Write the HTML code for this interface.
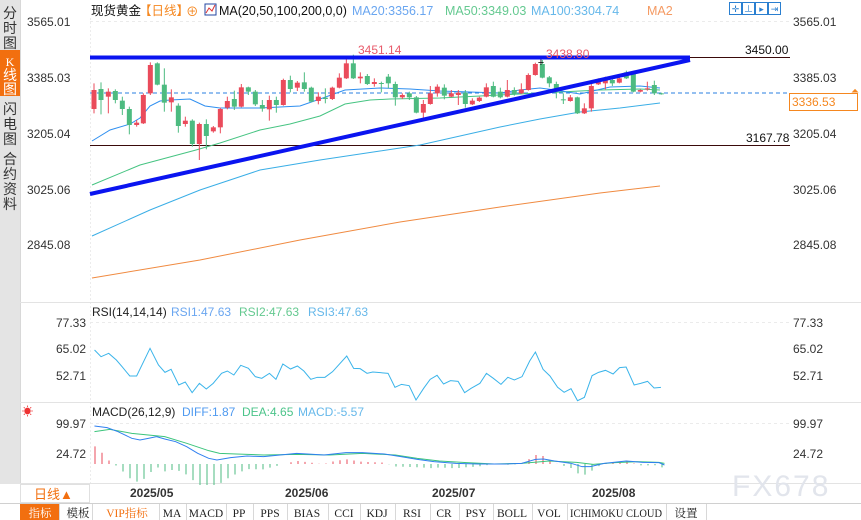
<!DOCTYPE html>
<html><head><meta charset="utf-8">
<style>
body{margin:0;width:861px;height:520px;overflow:hidden;background:#fff;font-family:"Liberation Sans","Noto Sans CJK SC",sans-serif;}
svg{position:absolute;left:0;top:0}
text{font-family:"Liberation Sans","Noto Sans CJK SC",sans-serif}
.serif text, text.serif{font-family:"Liberation Serif","Noto Serif CJK SC",serif}
</style></head>
<body>
<svg id="s" width="861" height="520" xmlns="http://www.w3.org/2000/svg">
<rect x="0" y="0" width="20" height="484" fill="#e4e4e4"/>
<rect x="0" y="50" width="20" height="46" fill="#f26f0f"/>
<g font-size="14" fill="#333" text-anchor="middle">
<text x="10" y="18">分</text><text x="10" y="33">时</text><text x="10" y="48">图</text>
<text x="10" y="66" fill="#fff" font-size="12" class="serif">K</text><text x="10" y="80" fill="#fff">线</text><text x="10" y="94" fill="#fff">图</text>
<text x="10" y="114">闪</text><text x="10" y="129">电</text><text x="10" y="144">图</text>
<text x="10" y="164">合</text><text x="10" y="179">约</text><text x="10" y="194">资</text><text x="10" y="209">料</text>
</g>
<line x1="20.5" y1="0" x2="20.5" y2="503" stroke="#d8d8d8"/>
<line x1="90.5" y1="18" x2="90.5" y2="483" stroke="#ececec" stroke-dasharray="2,2"/>
<line x1="20" y1="302.5" x2="861" y2="302.5" stroke="#e3e3e3"/>
<line x1="20" y1="402.5" x2="861" y2="402.5" stroke="#e3e3e3"/>
<line x1="20" y1="483.5" x2="861" y2="483.5" stroke="#e3e3e3"/>
<line x1="0" y1="503.5" x2="861" y2="503.5" stroke="#d0d0d0"/>
<g stroke="#ebebeb" stroke-dasharray="3,3">
<line x1="90" y1="21.5" x2="790" y2="21.5"/>
<line x1="90" y1="322.5" x2="790" y2="322.5"/>
<line x1="90" y1="423.5" x2="790" y2="423.5"/>
</g>
<g font-size="12.5">
<text x="91" y="15" fill="#111">现货黄金</text>
<text x="139" y="15" fill="#f5871f">【日线】</text>
<text x="186" y="16" fill="#f5871f">⊕</text>
<rect x="205" y="4" width="11" height="11" fill="#fff" stroke="#2346a0"/>
<polyline points="206,13 209,8 212,11 215,5" fill="none" stroke="#d33" stroke-width="1"/>
<text x="219" y="15" fill="#111">MA(20,50,100,200,0,0)</text>
<text x="352" y="15" fill="#6aa6f0">MA20:3356.17</text>
<text x="445" y="15" fill="#64c990">MA50:3349.03</text>
<text x="531" y="15" fill="#66b8ea">MA100:3304.74</text>
<text x="647" y="15" fill="#f59a62">MA2</text>
</g>
<g fill="none" stroke="#2a7fd0">
<rect x="729.5" y="2.5" width="12" height="12"/><rect x="742.5" y="2.5" width="12" height="12"/><rect x="755.5" y="2.5" width="12" height="12"/><rect x="768.5" y="2.5" width="12" height="12"/>
</g>
<g fill="#2a7fd0" font-size="9" text-anchor="middle"><text x="735.5" y="12">✛</text><text x="748.5" y="12">⊥</text><text x="761.5" y="12">▸</text><text x="774.5" y="12">⇥</text></g>
<g font-size="12" fill="#333">
<text x="27" y="26">3565.01</text><text x="27" y="82">3385.03</text><text x="27" y="138">3205.04</text><text x="27" y="194">3025.06</text><text x="27" y="249">2845.08</text>
<text x="793" y="26">3565.01</text><text x="793" y="82">3385.03</text><text x="793" y="138">3205.04</text><text x="793" y="194">3025.06</text><text x="793" y="249">2845.08</text>
<text x="56" y="327">77.33</text><text x="56" y="353">65.02</text><text x="56" y="380">52.71</text>
<text x="793" y="327">77.33</text><text x="793" y="353">65.02</text><text x="793" y="380">52.71</text>
<text x="56" y="428">99.97</text><text x="56" y="458">24.72</text>
<text x="793" y="428">99.97</text><text x="793" y="458">24.72</text>
</g>
<g font-size="12">
<text x="92" y="316" fill="#222">RSI(14,14,14)</text><text x="171" y="316" fill="#6aa6f0">RSI1:47.63</text><text x="239" y="316" fill="#64c990">RSI2:47.63</text><text x="308" y="316" fill="#66b8ea">RSI3:47.63</text>
<text x="92" y="416" fill="#222">MACD(26,12,9)</text><text x="182" y="416" fill="#4f9af0">DIFF:1.87</text><text x="242" y="416" fill="#4cc48a">DEA:4.65</text><text x="298" y="416" fill="#66b8ea">MACD:-5.57</text>
</g>
<text x="22" y="415" font-size="11" fill="#e33">☀</text>
<line x1="90" y1="57.5" x2="790" y2="57.5" stroke="#3a0a0a" stroke-width="1"/>
<line x1="90" y1="145.5" x2="790" y2="145.5" stroke="#3a0a0a" stroke-width="1"/>
<line x1="90" y1="93" x2="790" y2="93" stroke="#2a7fe0" stroke-dasharray="4,3"/>
<g id="ma"></g>
<g id="cd"></g>
<line x1="90" y1="57.5" x2="690" y2="57.5" stroke="#0a14f0" stroke-width="4"/>
<line x1="90" y1="194" x2="690" y2="60" stroke="#0a14f0" stroke-width="4"/>
<text x="358" y="54" font-size="12" fill="#e85a6a">3451.14</text>
<text x="546" y="58" font-size="12" fill="#e85a6a">3438.80</text>
<text x="541" y="66" font-size="11" fill="#000" text-anchor="middle">+</text>
<text x="745" y="54" font-size="12" fill="#111">3450.00</text>
<text x="746" y="142" font-size="12" fill="#111">3167.78</text>
<rect x="789.5" y="93.5" width="68" height="17" fill="#fff" stroke="#f5871f"/>
<text x="792" y="106" font-size="12" fill="#f5871f">3336.53</text>
<text x="855" y="94" font-size="10" fill="#f5871f" text-anchor="middle">⏶</text>
<g id="rsi"></g>
<g id="macd"></g>
<g font-size="12" font-weight="bold" fill="#333">
<text x="130" y="497">2025/05</text><text x="285" y="497">2025/06</text><text x="432" y="497">2025/07</text><text x="592" y="497">2025/08</text>
</g>
<rect x="20.5" y="484.5" width="69" height="18" fill="#fff" stroke="#e0e0e0"/>
<text x="34" y="499" font-size="13" fill="#f26f0f">日线▲</text>
<text x="732" y="496" font-size="30" fill="#e2e5ec" letter-spacing="2">FX678</text>
<rect x="20" y="504" width="40" height="16" fill="#f26f0f"/>
<g font-size="11.5" fill="#222" class="serif" text-anchor="middle">
<text x="40" y="517" fill="#fff">指标</text>
<text x="78" y="517">模板</text>
<text x="127" y="517" fill="#f26f0f">VIP指标</text>
<text x="172" y="517">MA</text>
<text x="206" y="517">MACD</text>
<text x="239" y="517">PP</text>
<text x="270" y="517">PPS</text>
<text x="307" y="517">BIAS</text>
<text x="344" y="517">CCI</text>
<text x="377" y="517">KDJ</text>
<text x="412" y="517">RSI</text>
<text x="444" y="517">CR</text>
<text x="476" y="517">PSY</text>
<text x="512" y="517">BOLL</text>
<text x="549" y="517">VOL</text>
<text x="616" y="517" textLength="92" lengthAdjust="spacingAndGlyphs">ICHIMOKU CLOUD</text>
<text x="686" y="517">设置</text>
</g>
<g stroke="#d8d8d8">
<line x1="59.5" y1="504" x2="59.5" y2="520"/><line x1="92.5" y1="504" x2="92.5" y2="520"/><line x1="159.5" y1="504" x2="159.5" y2="520"/><line x1="186.5" y1="504" x2="186.5" y2="520"/><line x1="226.5" y1="504" x2="226.5" y2="520"/><line x1="253.5" y1="504" x2="253.5" y2="520"/><line x1="287.5" y1="504" x2="287.5" y2="520"/><line x1="328.5" y1="504" x2="328.5" y2="520"/><line x1="360.5" y1="504" x2="360.5" y2="520"/><line x1="395.5" y1="504" x2="395.5" y2="520"/><line x1="430.5" y1="504" x2="430.5" y2="520"/><line x1="459.5" y1="504" x2="459.5" y2="520"/><line x1="493.5" y1="504" x2="493.5" y2="520"/><line x1="532.5" y1="504" x2="532.5" y2="520"/><line x1="567.5" y1="504" x2="567.5" y2="520"/><line x1="666.5" y1="504" x2="666.5" y2="520"/><line x1="706.5" y1="504" x2="706.5" y2="520"/>
</g>
</svg>
<script>
var NS="http://www.w3.org/2000/svg";
function el(p,t,a){var e=document.createElementNS(NS,t);for(var k in a)e.setAttribute(k,a[k]);document.getElementById(p).appendChild(e);return e;}
function pl(p,pts,c,w){el(p,'polyline',{points:pts.map(function(q){return q[0]+','+q[1]}).join(' '),fill:'none',stroke:c,'stroke-width':w||1});}
pl('ma',[[92,278],[200,260],[300,240],[400,222],[500,207],[600,193],[660,186]],'#f08a40');
pl('ma',[[92,236],[150,210],[200,190],[260,170],[320,160],[380,151],[420,145],[460,136],[500,127],[540,119],[580,112],[620,108],[660,103]],'#3aaee6');
pl('ma',[[92,185],[140,165],[196,150],[220,143],[260,130],[290,124],[320,116],[345,104],[370,100],[390,99],[440,98],[480,96],[520,94],[560,92],[600,90],[640,89],[660,90]],'#46c482');
pl('ma',[[92,141],[110,130],[130,124],[140,118],[150,106],[160,101],[170,100],[190,99],[205,106],[220,108],[260,108],[280,107],[300,106],[320,99],[345,90],[380,88],[410,89],[440,91],[470,92],[500,93],[520,90],[540,88],[555,90],[580,94],[610,87],[640,86],[660,88]],'#2f8ff0');
var Z4=[[12,120,177,100,190,'r'],[33,117,150,97,193,'g'],[55,125,140,115,190,'r'],[76,123,150,118,160,'g'],[97,152,177,140,195,'g'],[118,177,225,170,253,'g'],[140,218,225,210,230,'r'],[160,135,220,130,222,'r'],[181,45,130,37,135,'r'],[202,40,104,37,106,'g'],[223,104,158,55,185,'g'],[244,142,157,118,185,'r'],[265,167,228,160,248,'g'],[286,212,222,200,230,'r'],[307,212,282,208,290,'g'],[328,222,282,218,330,'r'],[349,222,258,208,298,'g'],[370,232,244,228,248,'r'],[391,177,232,173,250,'r'],[412,153,173,140,178,'r'],[433,147,170,122,180,'g'],[454,112,170,102,172,'r'],[475,112,125,110,135,'g'],[496,125,163,120,168,'g'],[517,165,176,150,185,'g'],[538,150,178,137,212,'r'],[559,150,165,140,188,'g'],[580,90,165,86,167,'r'],[601,90,117,77,127,'g'],[622,98,113,93,123,'r'],[643,97,117,67,125,'g'],[664,113,155,110,157,'g'],[685,140,153,127,163,'r'],[706,143,147,115,160,'g'],[727,113,147,110,150,'r'],[748,83,113,70,115,'r'],[769,40,85,27,87,'r'],[790,40,85,14,87,'g'],[811,80,85,67,100,'r'],[832,78,102,72,105,'g'],[853,96,102,85,110,'r'],[874,99,101,95,127,'g'],[895,80,100,72,115,'g']];
var Z5=[[46,102,142,95,167,'g'],[67,135,142,130,147,'r'],[88,130,142,125,150,'g'],[109,142,188,138,190,'g'],[130,162,188,150,205,'r'],[151,130,162,108,164,'r'],[172,110,130,103,140,'r'],[193,113,137,103,148,'g'],[214,130,140,120,142,'r'],[235,128,135,120,165,'r'],[256,128,162,120,173,'g'],[277,152,163,145,165,'r'],[298,143,153,140,156,'r'],[319,112,140,100,142,'r'],[340,108,140,95,142,'g'],[361,125,142,113,145,'g'],[382,120,140,90,142,'r'],[403,120,132,112,137,'g'],[424,118,130,100,132,'r'],[445,75,120,70,122,'r'],[466,42,75,38,77,'r'],[487,42,83,30,85,'g'],[508,82,100,78,112,'g'],[529,102,118,95,145,'g'],[550,148,151,130,162,'g'],[571,142,153,135,155,'r'],[592,142,190,140,192,'g'],[613,175,190,160,192,'r'],[634,108,175,95,185,'r'],[655,93,103,85,105,'r'],[676,90,100,80,118,'r'],[697,90,100,82,108,'g'],[718,85,98,77,100,'r'],[739,67,85,62,87,'g'],[760,70,125,68,127,'g'],[781,120,125,118,127,'r'],[802,115,118,95,122,'r'],[823,105,130,92,135,'g'],[844,130,132,128,134,'g']];
function cand(arr,bx){arr.forEach(function(c){var x=bx+c[0]/3,col=c[5]=='r'?'#ea4b5b':'#4dbb80';
el('cd','line',{x1:x,x2:x,y1:50+c[3]/3,y2:50+c[4]/3,stroke:col});
var t=50+c[1]/3,b=50+c[2]/3;el('cd','rect',{x:x-2.5,y:t,width:5,height:Math.max(1,b-t),fill:col});});}
cand(Z4,90);cand(Z5,380);
var R=[[38,180],[55,200],[75,190],[95,210],[110,230],[130,258],[148,258],[183,175],[205,225],[222,247],[238,238],[258,285],[275,276],[293,308],[312,280],[330,297],[348,280],[370,250],[385,243],[402,255],[420,226],[440,235],[458,260],[475,265],[495,250],[512,268],[530,222],[550,237],[568,228],[585,243],[603,268],[620,262],[640,262],[660,245],[697,198],[715,235],[732,236],[750,250],[765,246],[805,250],[823,292],[840,283],[860,287],[878,330],[898,295],[915,268],[933,256],[950,282],[968,272],[988,274],[1005,308],[1022,295],[1045,280],[1062,250],[1080,265],[1100,283],[1118,262],[1135,270],[1155,260],[1175,213],[1190,186],[1210,238],[1228,258],[1248,292],[1265,307],[1283,296],[1300,332],[1318,322],[1338,257],[1355,247],[1373,241],[1393,252],[1410,233],[1427,231],[1448,285],[1465,280],[1483,274],[1500,294],[1518,292]];
pl('rsi',R.map(function(p){return[80+p[0]/2.613,290+p[1]/3]}),'#3ab4ea');
var D=[[172,78],[195,83],[215,95],[240,115],[255,120],[270,115],[285,110],[300,117],[320,125],[340,140],[360,160],[380,175],[395,180],[420,173],[450,168],[480,170],[510,165],[540,160],[560,162],[590,165],[630,158],[660,158],[700,162],[730,170],[760,178],[790,185],[830,190],[870,192],[920,192],[950,190],[975,178],[990,177],[1010,183],[1040,190],[1060,200],[1075,200],[1100,190],[1140,183],[1170,187],[1200,188],[1210,195]];
var E=[[172,95],[200,88],[240,100],[300,110],[340,130],[380,152],[400,160],[430,162],[480,165],[540,163],[600,165],[660,160],[720,165],[760,175],[800,183],[850,188],[900,192],[950,190],[1000,183],[1050,187],[1080,193],[1120,188],[1160,185],[1200,187],[1210,190]];
function tr(a){return a.map(function(p){return[p[0]/1.821,400+p[1]/3]});}
var Dt=tr(D),Et=tr(E);
function interp(a,x){for(var i=0;i<a.length-1;i++){if(x>=a[i][0]&&x<=a[i+1][0]){var f=(x-a[i][0])/(a[i+1][0]-a[i][0]);return a[i][1]+f*(a[i+1][1]-a[i][1]);}}return a[a.length-1][1];}
for(var x=95;x<=663;x+=7){var d=interp(Dt,x),e=interp(Et,x),h=(e-d)*3.2;if(h<-21)h=-21;if(h>18)h=18;var base=464;
el('macd','line',{x1:x,x2:x,y1:base,y2:base-h,stroke:h>0?'#ea4b5b':'#4dbb80'});}
pl('macd',Et,'#3cc47c');pl('macd',Dt,'#2f7ff0');
</script>
</body></html>
